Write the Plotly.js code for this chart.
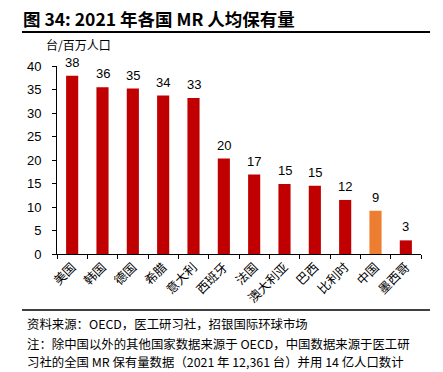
<!DOCTYPE html>
<html>
<head>
<meta charset="utf-8">
<script src="https://cdn.plot.ly/plotly-3.0.1.min.js"></script>
<style>html,body{margin:0;padding:0;background:#fff;}#chart{width:443px;height:372px;}</style>
</head>
<body>
<div id="chart"></div>
<script>
const countries = ["美国","韩国","德国","希腊","意大利","西班牙","法国","澳大利亚","巴西","比利时","中国","墨西哥"];
const mrPerMillion = [37.9, 35.5, 35.2, 33.7, 33.2, 20.3, 16.9, 14.9, 14.5, 11.5, 9.2, 2.9];
const barColors = ["#C00000","#C00000","#C00000","#C00000","#C00000","#C00000","#C00000","#C00000","#C00000","#C00000","#ED7D31","#C00000"];
const yTicks = [0,5,10,15,20,25,30,35,40];

const FONT = "Liberation Sans, Arial, 'Noto Sans CJK SC', sans-serif";
const CJK = "'Noto Sans CJK SC', 'Liberation Sans', sans-serif";

const L = 57, R = 22, T = 66, B = 118, W = 443, H = 372;
const pw = W - L - R, ph = H - T - B;
const px = x => (x - L) / pw;
const py = y => (H - B - y) / ph;

const trace = {
  type: "bar",
  x: countries,
  y: mrPerMillion,
  marker: {color: barColors},
  width: 0.4,
  hoverinfo: "skip"
};

const valueLabels = countries.map((c, i) => ({
  xref: "x", yref: "y", x: c, y: mrPerMillion[i],
  yanchor: "bottom", xanchor: "center", yshift: 4, showarrow: false,
  text: String(Math.round(mrPerMillion[i])),
  font: {family: FONT, size: 13, color: "#000"}
}));

const layout = {
  width: W, height: H,
  margin: {l: L, r: R, t: T, b: B, pad: 0},
  paper_bgcolor: "#fff", plot_bgcolor: "#fff",
  showlegend: false,
  font: {family: FONT, color: "#000"},
  xaxis: {
    type: "category",
    tickangle: -45,
    ticks: "outside", ticklen: 4, tickcolor: "#000", tickson: "boundaries",
    showline: true, linecolor: "#000", linewidth: 1,
    tickfont: {family: CJK, size: 12.5, color: "#000"},
    showgrid: false, zeroline: false,
    fixedrange: true
  },
  yaxis: {
    range: [0, 40],
    tickvals: yTicks,
    ticks: "outside", ticklen: 4, tickcolor: "#000",
    showline: true, linecolor: "#000", linewidth: 1,
    tickfont: {family: FONT, size: 13, color: "#000"},
    showgrid: false, zeroline: false,
    ticklabelstandoff: 8,
    fixedrange: true
  },
  shapes: [
    {type: "line", xref: "paper", yref: "paper", x0: px(22), x1: px(430), y0: py(32), y1: py(32), line: {color: "#000", width: 2}},
    {type: "line", xref: "paper", yref: "paper", x0: px(22), x1: px(430), y0: py(310), y1: py(310), line: {color: "#000", width: 1.5}}
  ],
  annotations: valueLabels.concat([
    {xref: "paper", yref: "paper", x: px(21), y: py(18), xanchor: "left", yanchor: "middle", showarrow: false,
     text: "<b>图 34: 2021 年各国 MR 人均保有量</b>", font: {family: CJK, size: 17.5, color: "#000"}},
    {xref: "paper", yref: "paper", x: px(44), y: py(44), xanchor: "left", yanchor: "middle", showarrow: false,
     text: "台/百万人口", font: {family: CJK, size: 12, color: "#000"}},
    {xref: "paper", yref: "paper", x: px(25), y: py(324), xanchor: "left", yanchor: "middle", showarrow: false,
     text: "资料来源：OECD，医工研习社，招银国际环球市场", font: {family: CJK, size: 12.4, color: "#000"}},
    {xref: "paper", yref: "paper", x: px(25), y: py(344), xanchor: "left", yanchor: "middle", showarrow: false,
     text: "注：除中国以外的其他国家数据来源于 OECD，中国数据来源于医工研", font: {family: CJK, size: 12.4, color: "#000"}},
    {xref: "paper", yref: "paper", x: px(25), y: py(362), xanchor: "left", yanchor: "middle", showarrow: false,
     text: "习社的全国 MR 保有量数据（2021 年 12,361 台）并用 14 亿人口数计", font: {family: CJK, size: 12.4, color: "#000"}}
  ])
};

Plotly.newPlot("chart", [trace], layout, {displayModeBar: false, staticPlot: true});
</script>
</body>
</html>
